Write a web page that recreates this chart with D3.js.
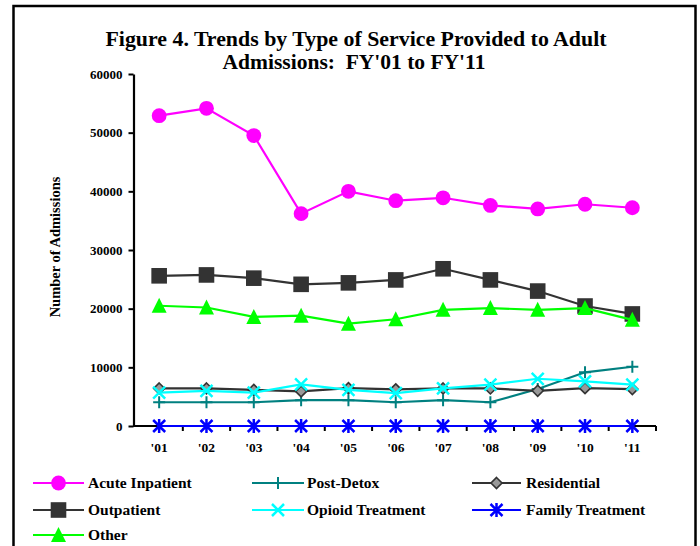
<!DOCTYPE html>
<html>
<head>
<meta charset="utf-8">
<script src="https://cdn.jsdelivr.net/npm/d3@7"></script>
<style>
  html, body { margin: 0; padding: 0; background: #fff; }
  svg { display: block; }
  text { font-family: "Liberation Serif", "Times New Roman", serif; font-weight: bold; fill: #000; }
</style>
</head>
<body>
<script>
// ---- data ----
const categories = ["'01", "'02", "'03", "'04", "'05", "'06", "'07", "'08", "'09", "'10", "'11"];
const yTicks = [0, 10000, 20000, 30000, 40000, 50000, 60000];
const seriesNames = ["Acute Inpatient", "Post-Detox", "Residential", "Outpatient", "Opioid Treatment", "Family Treatment", "Other"];
const acuteInpatient = [52900, 54150, 49500, 36200, 40000, 38400, 38900, 37600, 37000, 37800, 37200];
const postDetox      = [4050, 4050, 4050, 4400, 4400, 4050, 4400, 4050, 6300, 9150, 10100];
const residential    = [6400, 6400, 6150, 5900, 6450, 6250, 6400, 6400, 6000, 6450, 6300];
const outpatient     = [25600, 25750, 25200, 24150, 24400, 24900, 26800, 24900, 23000, 20450, 19100];
const opioidTreatment = [5700, 6000, 5700, 7100, 6150, 5600, 6400, 7050, 8050, 7600, 7050];
const familyTreatment = [0, 0, 0, 0, 0, 0, 0, 0, 0, 0, 0];
const other          = [20500, 20200, 18600, 18800, 17450, 18200, 19800, 20100, 19800, 20100, 18100];
const titleLines = ["Figure 4. Trends by Type of Service Provided to Adult", "Admissions:  FY'01 to FY'11"];
const yAxisTitle = "Number of Admissions";

// ---- styles ----
const styles = [
  { color: "#FF00FF", marker: "circle" },
  { color: "#008080", marker: "plus" },
  { color: "#333333", marker: "diamond" },
  { color: "#333333", marker: "square" },
  { color: "#00FFFF", marker: "x" },
  { color: "#0000FF", marker: "asterisk" },
  { color: "#00FF00", marker: "triangle" }
];
const seriesValues = [acuteInpatient, postDetox, residential, outpatient, opioidTreatment, familyTreatment, other];
const series = seriesNames.map((name, i) => ({ name, values: seriesValues[i], ...styles[i] }));

const W = 700, H = 546;
const svg = d3.select("body").append("svg").attr("width", W).attr("height", H);

// frame
svg.append("rect").attr("x", 13.5).attr("y", 6).attr("width", 682).attr("height", 600)
  .attr("fill", "none").attr("stroke", "#000").attr("stroke-width", 2.5);

// title
svg.append("text").attr("x", 356).attr("y", 46).attr("text-anchor", "middle")
  .style("font-size", "22px").attr("textLength", 501).attr("lengthAdjust", "spacingAndGlyphs")
  .text(titleLines[0]);
svg.append("text").attr("x", 354).attr("y", 69).attr("text-anchor", "middle")
  .style("font-size", "21.5px").style("white-space", "pre")
  .text(titleLines[1]);

// scales
const x = d3.scaleBand().domain(categories).range([135.5, 656]).padding(0);
const y = d3.scaleLinear().domain([0, 60000]).range([426, 74]);

// y axis
const yAxis = svg.append("g").attr("transform", "translate(133.5,0)")
  .call(d3.axisLeft(y).tickValues(yTicks).tickSize(5).tickSizeOuter(0).tickPadding(6).tickFormat(d3.format("d")));
yAxis.select(".domain").attr("stroke-width", 2.2);
yAxis.selectAll(".tick line").attr("stroke-width", 2);
yAxis.selectAll("text").style("font-size", "13px").style("font-family", "'Liberation Serif', serif").style("font-weight", "bold");

// x axis
const xg = svg.append("g");
xg.append("line").attr("x1", 133).attr("x2", x.range()[1]).attr("y1", y(0)).attr("y2", y(0))
  .attr("stroke", "#000").attr("stroke-width", 2.2);
xg.selectAll("line.tk").data(categories).enter().append("line").attr("class", "tk")
  .attr("x1", d => x(d) + x.bandwidth()).attr("x2", d => x(d) + x.bandwidth())
  .attr("y1", y(0)).attr("y2", y(0) + 5).attr("stroke", "#000").attr("stroke-width", 2);
const xAxis = svg.append("g").attr("transform", `translate(0,${y(0)})`)
  .call(d3.axisBottom(x).tickSize(0).tickPadding(16));
xAxis.select(".domain").remove();
xAxis.selectAll("text").style("font-size", "13.5px").style("font-family", "'Liberation Serif', serif").style("font-weight", "bold");

// y axis title (clipped like the reference)
const defs = svg.append("defs");
defs.append("clipPath").attr("id", "ytclip").append("rect").attr("x", 0).attr("y", 177).attr("width", 120).attr("height", 300);
svg.append("g").attr("clip-path", "url(#ytclip)")
  .append("text").attr("transform", "translate(60,247) rotate(-90)").attr("text-anchor", "middle")
  .style("font-size", "14.5px").text(yAxisTitle);

// marker drawing
function drawMarker(g, type, color, cx, cy) {
  switch (type) {
    case "circle":
      g.append("circle").attr("cx", cx).attr("cy", cy).attr("r", 7.4).attr("fill", color);
      break;
    case "plus":
      g.append("path").attr("d", `M${cx - 6},${cy}H${cx + 6}M${cx},${cy - 6}V${cy + 6}`)
        .attr("stroke", color).attr("stroke-width", 2).attr("fill", "none");
      break;
    case "diamond":
      g.append("path").attr("d", `M${cx},${cy - 5.5}L${cx + 5.5},${cy}L${cx},${cy + 5.5}L${cx - 5.5},${cy}Z`)
        .attr("fill", "#999999").attr("stroke", "#333333").attr("stroke-width", 1.6);
      break;
    case "square":
      g.append("rect").attr("x", cx - 7.8).attr("y", cy - 7.8).attr("width", 15.6).attr("height", 15.6).attr("fill", color);
      break;
    case "x":
      g.append("path").attr("d", `M${cx - 6},${cy - 6}L${cx + 6},${cy + 6}M${cx - 6},${cy + 6}L${cx + 6},${cy - 6}`)
        .attr("stroke", color).attr("stroke-width", 2.5).attr("fill", "none");
      break;
    case "asterisk":
      g.append("path").attr("d", `M${cx - 6},${cy - 6}L${cx + 6},${cy + 6}M${cx - 6},${cy + 6}L${cx + 6},${cy - 6}M${cx},${cy - 7}V${cy + 7}`)
        .attr("stroke", color).attr("stroke-width", 2.5).attr("fill", "none");
      break;
    case "triangle":
      g.append("path").attr("d", `M${cx},${cy - 8}L${cx + 7.5},${cy + 7}L${cx - 7.5},${cy + 7}Z`).attr("fill", color);
      break;
  }
}

// series
const line = d3.line().x((d, i) => x(categories[i]) + x.bandwidth() / 2).y(d => y(d));
series.forEach(s => {
  const g = svg.append("g");
  g.append("path").datum(s.values).attr("d", line).attr("fill", "none")
    .attr("stroke", s.color).attr("stroke-width", 2.2);
  s.values.forEach((v, i) => drawMarker(g, s.marker, s.color, x(categories[i]) + x.bandwidth() / 2, y(v)));
});

// legend
const legendCols = [[33, 84, 88], [252, 304, 307], [472, 521, 526]];
const legendRows = [483, 510, 535];
series.forEach((s, i) => {
  const col = legendCols[i % 3], row = legendRows[Math.floor(i / 3)];
  const g = svg.append("g");
  g.append("line").attr("x1", col[0]).attr("x2", col[1]).attr("y1", row).attr("y2", row)
    .attr("stroke", s.color).attr("stroke-width", 2.2);
  drawMarker(g, s.marker, s.color, (col[0] + col[1]) / 2, row);
  g.append("text").attr("x", col[2]).attr("y", row + 5).style("font-size", "15.5px").text(s.name);
});
</script>
</body>
</html>
